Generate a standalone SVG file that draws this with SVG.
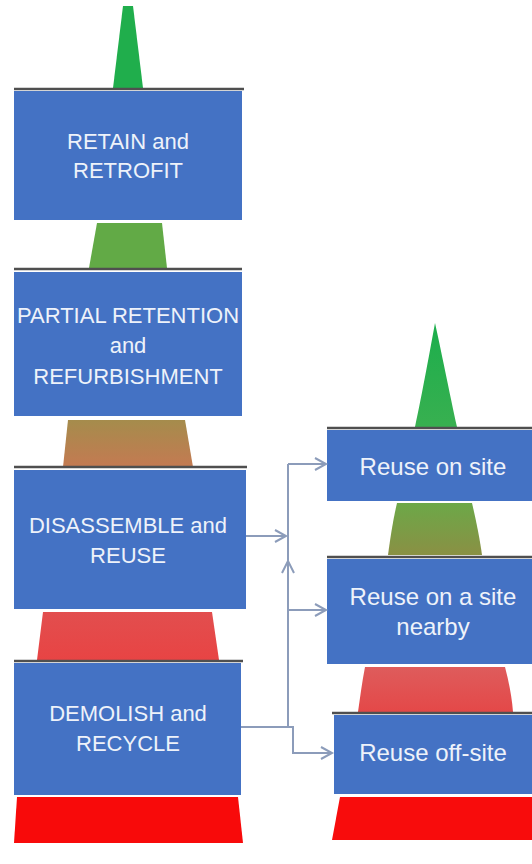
<svg xmlns="http://www.w3.org/2000/svg" width="532" height="864" viewBox="0 0 532 864">
<style>
.box{fill:#4472c4}
.topline{stroke:#4f4f4f;stroke-width:2.5}
.lbl{font-family:"Liberation Sans",Arial,sans-serif;fill:#eef2fa;text-anchor:middle}
.l{font-size:22px}
.r{font-size:24px}
.conn{fill:none;stroke:#8c9cba;stroke-width:2}
.ah{fill:none;stroke:#8c9cba;stroke-width:2}
</style>
<defs>
<linearGradient id="g3" x1="0" y1="0" x2="0" y2="1"><stop offset="0" stop-color="#a58c4c"/><stop offset="1" stop-color="#c47a52"/></linearGradient>
<linearGradient id="g4" x1="0" y1="0" x2="0" y2="1"><stop offset="0" stop-color="#e24e4e"/><stop offset="1" stop-color="#e84444"/></linearGradient>
<linearGradient id="gr2" x1="0" y1="0" x2="0" y2="1"><stop offset="0" stop-color="#6ca848"/><stop offset="1" stop-color="#8a9044"/></linearGradient>
<linearGradient id="gr3" x1="0" y1="0" x2="0" y2="1"><stop offset="0" stop-color="#de5c5c"/><stop offset="1" stop-color="#e44848"/></linearGradient>
<linearGradient id="gs" x1="0" y1="0" x2="0" y2="1"><stop offset="0" stop-color="#1cae4c"/><stop offset="1" stop-color="#38b050"/></linearGradient>
</defs>

<g id="left-spike"><polygon points="123,6 133,6 143,88 113,88" fill="#20ae4c"/></g>
<g id="left-trap2"><polygon points="97,223 162,223 167,268 89,268" fill="#62aa46"/></g>
<g id="left-trap3"><polygon points="68,420 185,420 193,467 63,467" fill="url(#g3)"/></g>
<g id="left-trap4"><polygon points="43,612 212,612 219,660 37,660" fill="url(#g4)"/></g>
<g id="left-trap5"><polygon points="17,797 238,797 243,843 14,843" fill="#f80a0a"/></g>

<g id="right-spike"><path d="M435,323 C431,345 422,395 415,427 L457,427 C450,395 440,345 435,323 Z" fill="url(#gs)"/></g>
<g id="right-trap2"><path d="M397,503 L472,503 C476,520 480,540 482,555 L388,555 C390,540 393,520 397,503 Z" fill="url(#gr2)"/></g>
<g id="right-trap3"><path d="M365,667 L505,667 C509,682 512,698 513,712 L358,712 C360,698 362,682 365,667 Z" fill="url(#gr3)"/></g>
<g id="right-trap4"><polygon points="340,797 532,797 532,840 332,840" fill="#f80c0c"/></g>

<g id="retain">
<line class="topline" x1="14" y1="89" x2="244" y2="89"/>
<rect class="box" x="14" y="91" width="228" height="129"/>
<text class="lbl l" x="128" y="149">RETAIN and</text>
<text class="lbl l" x="128" y="178">RETROFIT</text>
</g>
<g id="partial">
<line class="topline" x1="14" y1="269" x2="242" y2="269"/>
<rect class="box" x="14" y="272" width="228" height="144"/>
<text class="lbl l" x="128" y="323">PARTIAL RETENTION</text>
<text class="lbl l" x="128" y="353">and</text>
<text class="lbl l" x="128" y="384">REFURBISHMENT</text>
</g>
<g id="disassemble">
<line class="topline" x1="14" y1="467" x2="247" y2="467"/>
<rect class="box" x="14" y="470" width="232" height="139"/>
<text class="lbl l" x="128" y="533">DISASSEMBLE and</text>
<text class="lbl l" x="128" y="563">REUSE</text>
</g>
<g id="demolish">
<line class="topline" x1="14" y1="661" x2="243" y2="661" stroke="#777"/>
<rect class="box" x="14" y="663" width="227" height="132"/>
<text class="lbl l" x="128" y="721">DEMOLISH and</text>
<text class="lbl l" x="128" y="751">RECYCLE</text>
</g>

<g id="reuse-on-site">
<line class="topline" x1="327" y1="428" x2="532" y2="428"/>
<rect class="box" x="327" y="430" width="210" height="71"/>
<text class="lbl r" x="433" y="475">Reuse on site</text>
</g>
<g id="reuse-nearby">
<line class="topline" x1="327" y1="557" x2="532" y2="557" stroke="#777"/>
<rect class="box" x="327" y="559" width="210" height="105"/>
<text class="lbl r" x="433" y="605">Reuse on a site</text>
<text class="lbl r" x="433" y="635">nearby</text>
</g>
<g id="reuse-off-site">
<line class="topline" x1="332" y1="713" x2="532" y2="713" stroke="#777"/>
<rect class="box" x="334" y="715" width="203" height="79"/>
<text class="lbl r" x="433" y="761">Reuse off-site</text>
</g>

<g id="connectors">
<path class="conn" d="M246,536 H286"/>
<path class="ah" d="M275,530 L286,536 L275,542"/>
<path class="conn" d="M288,464 V727"/>
<path class="conn" d="M288,464 H326"/>
<path class="ah" d="M315,458 L326,464 L315,470"/>
<path class="conn" d="M288,610 H326"/>
<path class="ah" d="M315,604 L326,610 L315,616"/>
<path class="conn" d="M241,727 H289" stroke="#6f7d94"/>
<path class="ah" d="M282,573 L288,561 L294,573"/>
<path class="conn" d="M288,727 H293 V753 H332"/>
<path class="ah" d="M321,747 L332,753 L321,759"/>
</g>
</svg>
